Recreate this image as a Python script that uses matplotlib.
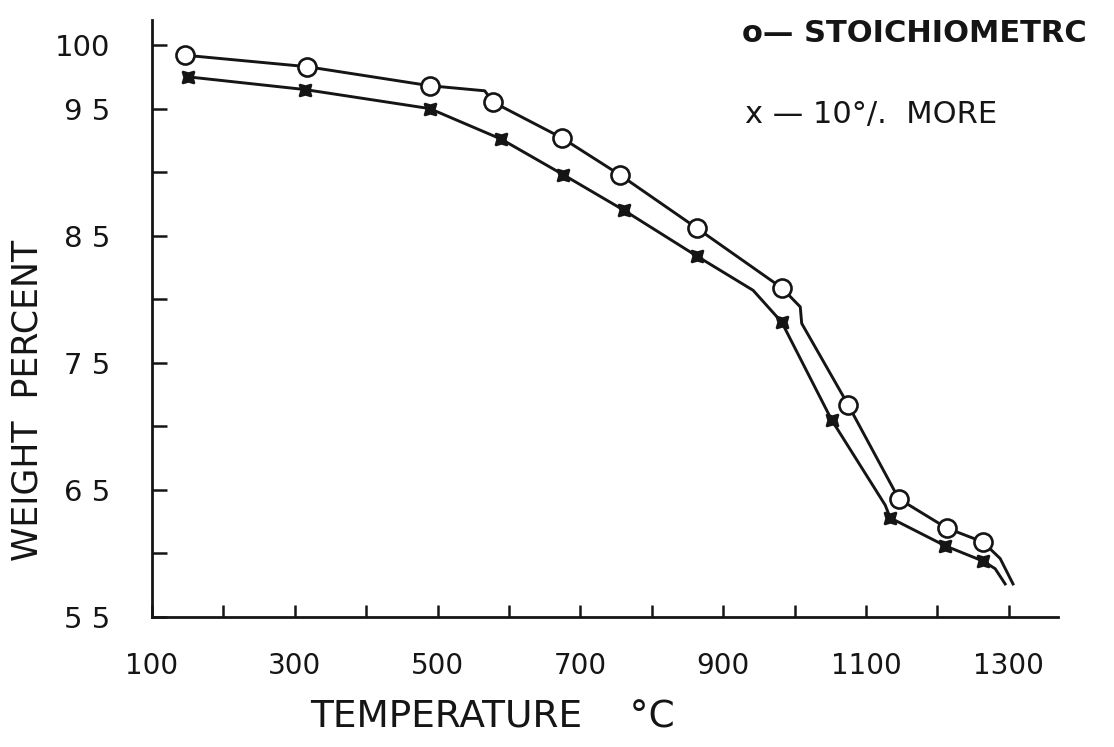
import matplotlib
matplotlib.use("Agg")
import matplotlib.pyplot as plt

# ---- data ----
stoich_T = [146, 317, 489, 578, 674, 755, 863, 982, 1075, 1146, 1213, 1264]
stoich_W = [99.2, 98.3, 96.8, 95.5, 92.7, 89.8, 85.6, 80.9, 71.7, 64.3, 62.0, 60.9]
stoich_curve_T = [146, 317, 489, 566, 578, 674, 755, 863, 982, 1008, 1010, 1075, 1146, 1213, 1264, 1288, 1306]
stoich_curve_W = [99.2, 98.3, 96.8, 96.4, 95.5, 92.7, 89.8, 85.6, 80.9, 79.4, 78.1, 71.7, 64.3, 62.0, 60.9, 59.6, 57.6]

more_T = [150, 314, 489, 589, 676, 761, 863, 982, 1052, 1134, 1211, 1264]
more_W = [97.5, 96.5, 95.0, 92.6, 89.8, 87.0, 83.4, 78.2, 70.5, 62.8, 60.6, 59.4]
more_curve_T = [150, 314, 489, 589, 676, 761, 863, 942, 982, 1052, 1127, 1134, 1211, 1264, 1281, 1295]
more_curve_W = [97.5, 96.5, 95.0, 92.6, 89.8, 87.0, 83.4, 80.7, 78.2, 70.5, 63.8, 62.8, 60.6, 59.4, 58.8, 57.6]

x_ticks = [100, 200, 300, 400, 500, 600, 700, 800, 900, 1000, 1100, 1200, 1300]
x_label_vals = [100, 300, 500, 700, 900, 1100, 1300]
y_ticks = [55, 60, 65, 70, 75, 80, 85, 90, 95, 100]
y_label_vals = [55, 65, 75, 85, 95, 100]
y_label_txt = ["5 5", "6 5", "7 5", "8 5", "9 5", "100"]

INK = "#151515"
FONT = ["DejaVu Sans"]

fig = plt.figure(figsize=(11.14, 7.47), dpi=100)
ax = fig.add_axes([152 / 1114, 1 - 617 / 747, (1058 - 152) / 1114, (617 - 20) / 747])

ax.plot(stoich_curve_T, stoich_curve_W, color=INK, lw=2.1, zorder=2)
ax.plot(more_curve_T, more_curve_W, color=INK, lw=2.1, zorder=2)
ax.plot(stoich_T, stoich_W, ls="none", marker="o", ms=13, mfc="white",
        mec=INK, mew=1.9, zorder=4)
ax.plot(more_T, more_W, ls="none", marker=(4, 1, 45), ms=12, mfc=INK,
        mec=INK, mew=1.5, zorder=3)

ax.set_xlim(100, 1369)
ax.set_ylim(55, 101.97)

for s in ["top", "right"]:
    ax.spines[s].set_visible(False)
for s in ["left", "bottom"]:
    ax.spines[s].set_linewidth(2.0)
    ax.spines[s].set_color(INK)

ax.set_xticks(x_ticks)
ax.set_xticklabels([str(v) if v in x_label_vals else "" for v in x_ticks],
                   family=FONT, fontsize=20, color=INK)
ax.set_yticks(y_ticks)
lab = dict(zip(y_label_vals, y_label_txt))
ax.set_yticklabels([lab.get(v, "") for v in y_ticks], family=FONT,
                   fontsize=21, color=INK)
ax.tick_params(axis="x", direction="in", length=9, width=1.8, pad=25, colors=INK)
ax.tick_params(axis="y", direction="in", length=11, width=1.8, pad=30, colors=INK)

fig.text(28 / 1114, 1 - 400 / 747, "WEIGHT  PERCENT", rotation=90,
         ha="center", va="center", family=FONT, fontsize=25, color=INK)
fig.text(310 / 1114, 1 - 718 / 747, "TEMPERATURE    °C", ha="left",
         va="center", family=FONT, fontsize=27, color=INK)

fig.text(742 / 1114, 1 - 33 / 747, "o— STOICHIOMETRC", ha="left", va="center",
         family=FONT, fontsize=22, fontweight="bold", color=INK)
fig.text(745 / 1114, 1 - 115 / 747, "x — 10°/.  MORE", ha="left", va="center",
         family=FONT, fontsize=22, color=INK)

fig.savefig("out.png", dpi=100, facecolor="white")
